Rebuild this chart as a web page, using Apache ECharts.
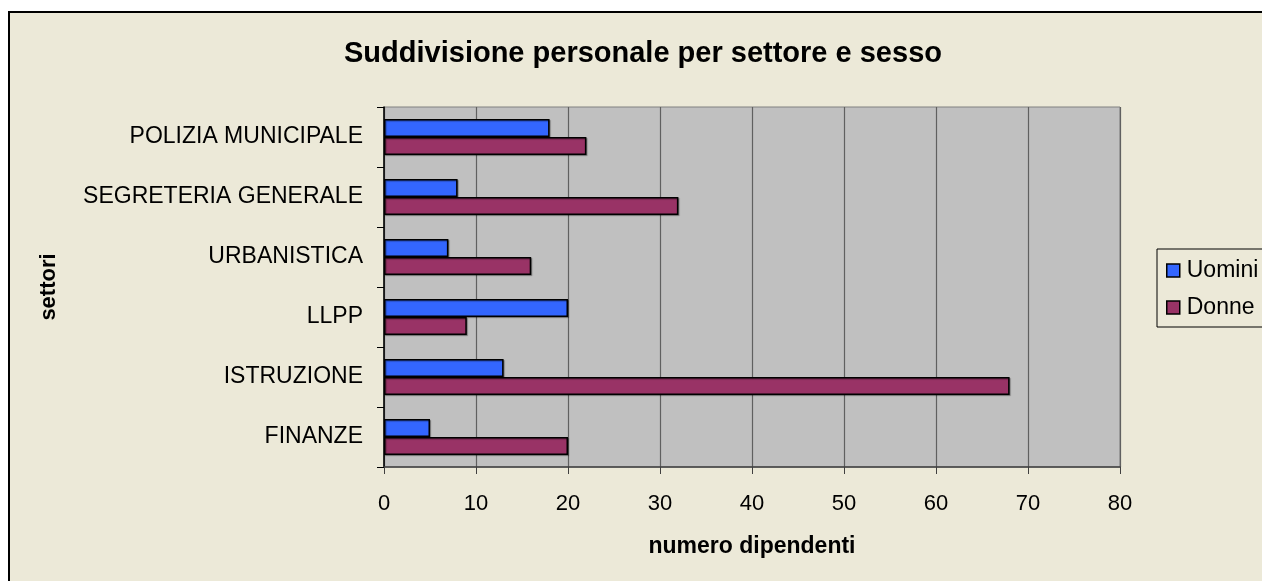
<!DOCTYPE html>
<html>
<head>
<meta charset="utf-8">
<script src="https://cdn.jsdelivr.net/npm/echarts@6/dist/echarts.min.js"></script>
<style>
    html, body { margin: 0; padding: 0; background: #ffffff; overflow: hidden; }
    #frame {
        position: absolute; left: 8px; top: 11px; width: 1300px; height: 620px;
        background: #ECE9D8; border: 2px solid #000;
    }
    #contain { position: absolute; left: 0; top: 0; width: 1262px; height: 581px; }
</style>
</head>
<body>
<div id="frame"></div>
<div id="contain"></div>
<script>
// settori, dall'alto verso il basso
let settori = ['POLIZIA MUNICIPALE', 'SEGRETERIA GENERALE', 'URBANISTICA', 'LLPP', 'ISTRUZIONE', 'FINANZE'];
let uomini = [18, 8, 7, 20, 13, 5];
let donne = [22, 32, 16, 9, 68, 20];
let xTicks = [0, 10, 20, 30, 40, 50, 60, 70, 80];

let font = 'Liberation Sans, Arial, sans-serif';

let grafico = echarts.init(document.getElementById('contain'));
let option = {
    backgroundColor: 'transparent',
    animation: false,
    title: {
        text: 'Suddivisione personale per settore e sesso',
        left: 643,
        top: 39,
        padding: 0,
        textAlign: 'center',
        textStyle: { fontFamily: font, fontSize: 29, fontWeight: 'bold', color: '#000' }
    },
    legend: {
        orient: 'vertical',
        left: 1157,
        top: 249,
        padding: [10, 12, 8, 9],
        itemGap: 14,
        itemWidth: 13,
        itemHeight: 13,
        icon: 'rect',
        borderColor: '#000',
        borderWidth: 1,
        backgroundColor: '#ECE9D8',
        data: ['Uomini', 'Donne'],
        itemStyle: { borderColor: '#000', borderWidth: 1.5 },
        textStyle: { fontFamily: font, fontSize: 23, color: '#000', padding: [0, 0, 0, 2] }
    },
    grid: {
        left: 384, right: 142, top: 107, bottom: 114,
        show: true,
        backgroundColor: '#C0C0C0',
        borderColor: '#808080',
        borderWidth: 1
    },
    xAxis: {
        type: 'value',
        min: xTicks[0],
        max: xTicks[xTicks.length - 1],
        interval: 10,
        name: 'numero dipendenti',
        nameLocation: 'middle',
        nameGap: 68,
        nameTextStyle: { fontFamily: font, fontSize: 23, fontWeight: 'bold', color: '#000' },
        axisLine: { show: true, lineStyle: { color: '#404040', width: 1.5 } },
        axisTick: { show: true, length: 7, lineStyle: { color: '#404040' } },
        axisLabel: { margin: 26, fontFamily: font, fontSize: 22, color: '#000' },
        splitLine: { show: true, lineStyle: { color: '#606060', width: 1.2 } }
    },
    yAxis: {
        type: 'category',
        inverse: true,
        data: settori,
        name: 'settori',
        nameLocation: 'middle',
        nameGap: 324,
        nameTextStyle: { fontFamily: font, fontSize: 22, fontWeight: 'bold', color: '#000' },
        axisLine: { show: true, lineStyle: { color: '#000', width: 1.5 } },
        axisTick: { show: true, length: 7, lineStyle: { color: '#000' } },
        axisLabel: { margin: 21, fontFamily: font, fontSize: 23, color: '#000' }
    },
    series: [
        {
            name: 'Uomini',
            type: 'bar',
            data: uomini,
            barGap: '0%',
            barCategoryGap: '40%',
            itemStyle: {
                color: '#3366FF', borderColor: '#000', borderWidth: 1.5,
                shadowColor: 'rgba(0,0,0,0.35)', shadowOffsetX: 1, shadowOffsetY: 1, shadowBlur: 1
            }
        },
        {
            name: 'Donne',
            type: 'bar',
            data: donne,
            barGap: '0%',
            barCategoryGap: '40%',
            itemStyle: {
                color: '#993366', borderColor: '#000', borderWidth: 1.5,
                shadowColor: 'rgba(0,0,0,0.35)', shadowOffsetX: 1, shadowOffsetY: 1, shadowBlur: 1
            }
        }
    ]
};
grafico.setOption(option);
</script>
</body>
</html>
